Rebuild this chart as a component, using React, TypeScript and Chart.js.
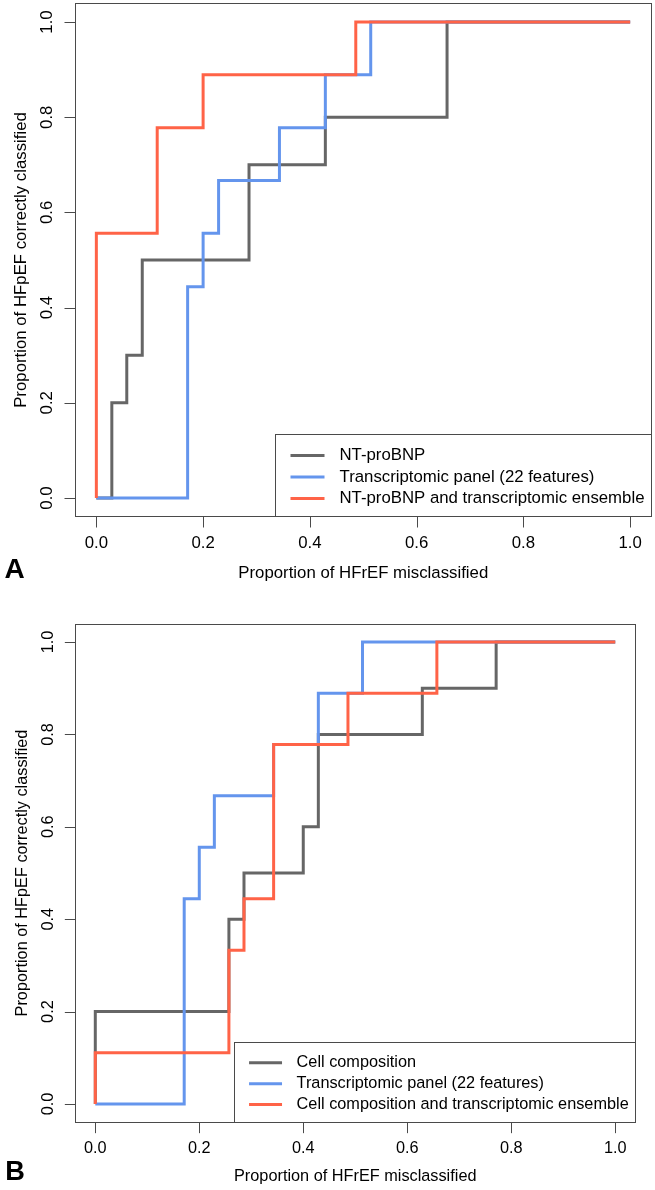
import React, { useEffect, useRef } from "react";
import { Chart, registerables } from "chart.js";

Chart.register(...registerables);

// ---------- data ----------
const TICK_VALUES = [0, 0.2, 0.4, 0.6, 0.8, 1.0];
const TICK_LABELS = ["0.0", "0.2", "0.4", "0.6", "0.8", "1.0"];
const X_TITLE = "Proportion of HFrEF misclassified";
const Y_TITLE = "Proportion of HFpEF correctly classified";

// Panel A
const A_NTPROBNP_FPR = [0, 0.029, 0.057, 0.086, 0.286, 0.429, 0.657, 1.0];
const A_NTPROBNP_TPR = [0, 0.2, 0.3, 0.5, 0.7, 0.8, 1.0, 1.0];
const A_TRANSCRIPT_FPR = [0, 0.171, 0.2, 0.229, 0.343, 0.429, 0.514, 1.0];
const A_TRANSCRIPT_TPR = [0, 0.444, 0.556, 0.667, 0.778, 0.889, 1.0, 1.0];
const A_ENSEMBLE_FPR = [0, 0, 0.114, 0.2, 0.486, 1.0];
const A_ENSEMBLE_TPR = [0, 0.556, 0.778, 0.889, 1.0, 1.0];
const A_LABELS = [
  "NT-proBNP",
  "Transcriptomic panel (22 features)",
  "NT-proBNP and transcriptomic ensemble",
];

// Panel B
const B_CELL_FPR = [0, 0, 0.257, 0.286, 0.4, 0.429, 0.629, 0.771, 1.0];
const B_CELL_TPR = [0, 0.2, 0.4, 0.5, 0.6, 0.8, 0.9, 1.0, 1.0];
const B_TRANSCRIPT_FPR = [0, 0.171, 0.2, 0.229, 0.343, 0.429, 0.514, 1.0];
const B_TRANSCRIPT_TPR = [0, 0.444, 0.556, 0.667, 0.778, 0.889, 1.0, 1.0];
const B_ENSEMBLE_FPR = [0, 0, 0.257, 0.286, 0.343, 0.486, 0.657, 1.0];
const B_ENSEMBLE_TPR = [0, 0.111, 0.333, 0.444, 0.778, 0.889, 1.0, 1.0];
const B_LABELS = [
  "Cell composition",
  "Transcriptomic panel (22 features)",
  "Cell composition and transcriptomic ensemble",
];

const SERIES_COLORS = ["#666666", "#6495ED", "#FF6347"];

// ---------- drawing ----------
const FONT_FAMILY = '"Liberation Sans", Arial, Helvetica, sans-serif';

type Series = { label: string; fpr: number[]; tpr: number[]; color: string };
type PanelProps = {
  top: number;
  height: number;
  padding: { left: number; top: number; right: number; bottom: number };
  s: number;
  letter: string;
  letterX: number;
  letterY: number;
  series: Series[];
};

function makePlugin(p: PanelProps) {
  return {
    id: "rStyle",
    afterDraw(chart: any) {
      const { ctx, chartArea: ca, scales } = chart;
      const xs = scales.x;
      const ys = scales.y;
      const s = p.s;
      const fs = 16.8 * s;
      ctx.save();
      // box
      ctx.strokeStyle = "#4a4a4a";
      ctx.lineWidth = 1;
      const L = Math.round(ca.left) + 0.5;
      const R = Math.round(ca.right) - 0.5;
      const T = Math.round(ca.top) + 0.5;
      const B = Math.round(ca.bottom) - 0.5;
      ctx.strokeRect(L, T, R - L, B - T);

      const tickLen = 11 * s;
      ctx.fillStyle = "#000";
      ctx.font = `${fs}px ${FONT_FAMILY}`;
      // x ticks
      TICK_VALUES.forEach((v, i) => {
        const px = Math.round(xs.getPixelForValue(v)) + 0.5;
        ctx.beginPath();
        ctx.moveTo(px, B);
        ctx.lineTo(px, B + tickLen);
        ctx.stroke();
        ctx.textAlign = "center";
        ctx.textBaseline = "middle";
        ctx.fillText(TICK_LABELS[i], xs.getPixelForValue(v), ca.bottom + 26.3 * s);
      });
      // y ticks
      TICK_VALUES.forEach((v, i) => {
        const py = Math.round(ys.getPixelForValue(v)) + 0.5;
        ctx.beginPath();
        ctx.moveTo(L - tickLen, py);
        ctx.lineTo(L, py);
        ctx.stroke();
        ctx.save();
        ctx.translate(ca.left - 27.3 * s, ys.getPixelForValue(v));
        ctx.rotate(-Math.PI / 2);
        ctx.textAlign = "center";
        ctx.textBaseline = "middle";
        ctx.fillText(TICK_LABELS[i], 0, 0);
        ctx.restore();
      });
      // axis titles
      ctx.textAlign = "center";
      ctx.textBaseline = "middle";
      ctx.fillText(X_TITLE, (ca.left + ca.right) / 2, ca.bottom + 56 * s);
      ctx.save();
      ctx.translate(ca.left - 54 * s, (ca.top + ca.bottom) / 2);
      ctx.rotate(-Math.PI / 2);
      ctx.fillText(Y_TITLE, 0, 0);
      ctx.restore();

      // panel letter
      ctx.font = `bold ${28 * s}px ${FONT_FAMILY}`;
      ctx.textAlign = "center";
      ctx.textBaseline = "middle";
      ctx.fillText(p.letter, p.letterX, p.letterY);

      // legend (bottomright)
      ctx.font = `${fs}px ${FONT_FAMILY}`;
      const labels = p.series.map((d) => d.label);
      const maxW = Math.max(...labels.map((l) => ctx.measureText(l).width));
      const padL = 15 * s, lineLen = 34 * s, gap = 15 * s, padR = 8 * s;
      const rowH = 21.5 * s, padT = 21 * s, padB = 18.5 * s;
      const w = padL + lineLen + gap + maxW + padR;
      const h = padT + rowH * (labels.length - 1) + padB;
      const lx = Math.round(R - w) + 0.5;
      const ly = Math.round(B - h) + 0.5;
      ctx.fillStyle = "#fff";
      ctx.fillRect(lx, ly, R - lx, B - ly);
      ctx.strokeStyle = "#4a4a4a";
      ctx.lineWidth = 1;
      ctx.strokeRect(lx, ly, R - lx, B - ly);
      p.series.forEach((d, i) => {
        const cy = ly + padT + rowH * i;
        ctx.strokeStyle = d.color;
        ctx.lineWidth = 3;
        ctx.beginPath();
        ctx.moveTo(lx + padL, cy);
        ctx.lineTo(lx + padL + lineLen, cy);
        ctx.stroke();
        ctx.fillStyle = "#000";
        ctx.textAlign = "left";
        ctx.textBaseline = "middle";
        ctx.fillText(d.label, lx + padL + lineLen + gap, cy);
      });
      ctx.restore();
    },
  };
}

function Panel(p: PanelProps) {
  const ref = useRef<HTMLCanvasElement | null>(null);
  useEffect(() => {
    if (!ref.current) return;
    const n = p.series.length;
    const chart = new Chart(ref.current, {
      type: "line",
      data: {
        datasets: p.series.map((d, i) => ({
          label: d.label,
          data: d.fpr.map((x, j) => ({ x, y: d.tpr[j] })),
          stepped: "before" as const,
          borderColor: d.color,
          backgroundColor: d.color,
          borderWidth: 3,
          pointRadius: 0,
          pointHoverRadius: 0,
          tension: 0,
          fill: false,
          order: n - i,
          borderJoinStyle: "miter" as const,
          borderCapStyle: "butt" as const,
        })),
      },
      options: {
        responsive: false,
        animation: false,
        devicePixelRatio: 1,
        events: [],
        layout: { padding: p.padding },
        plugins: { legend: { display: false }, tooltip: { enabled: false } },
        scales: {
          x: { type: "linear", min: -0.04, max: 1.04, display: false },
          y: { type: "linear", min: -0.04, max: 1.04, display: false },
        },
      },
      plugins: [makePlugin(p)],
    } as any);
    return () => chart.destroy();
  }, []);
  return (
    <canvas
      ref={ref}
      width={655}
      height={p.height}
      style={{ position: "absolute", left: 0, top: p.top, width: 655, height: p.height }}
    />
  );
}

export default function App() {
  const seriesA: Series[] = [
    { label: A_LABELS[0], fpr: A_NTPROBNP_FPR, tpr: A_NTPROBNP_TPR, color: SERIES_COLORS[0] },
    { label: A_LABELS[1], fpr: A_TRANSCRIPT_FPR, tpr: A_TRANSCRIPT_TPR, color: SERIES_COLORS[1] },
    { label: A_LABELS[2], fpr: A_ENSEMBLE_FPR, tpr: A_ENSEMBLE_TPR, color: SERIES_COLORS[2] },
  ];
  const seriesB: Series[] = [
    { label: B_LABELS[0], fpr: B_CELL_FPR, tpr: B_CELL_TPR, color: SERIES_COLORS[0] },
    { label: B_LABELS[1], fpr: B_TRANSCRIPT_FPR, tpr: B_TRANSCRIPT_TPR, color: SERIES_COLORS[1] },
    { label: B_LABELS[2], fpr: B_ENSEMBLE_FPR, tpr: B_ENSEMBLE_TPR, color: SERIES_COLORS[2] },
  ];
  return (
    <div style={{ position: "absolute", left: 0, top: 0, width: 655, height: 1190, background: "#fff", overflow: "hidden" }}>
      <Panel
        top={0}
        height={600}
        padding={{ left: 75, top: 3, right: 3.5, bottom: 83 }}
        s={1}
        letter="A"
        letterX={14.5}
        letterY={570}
        series={seriesA}
      />
      <Panel
        top={600}
        height={590}
        padding={{ left: 74.5, top: 23.5, right: 19, bottom: 67.5 }}
        s={0.97}
        letter="B"
        letterX={15}
        letterY={572.5}
        series={seriesB}
      />
    </div>
  );
}
